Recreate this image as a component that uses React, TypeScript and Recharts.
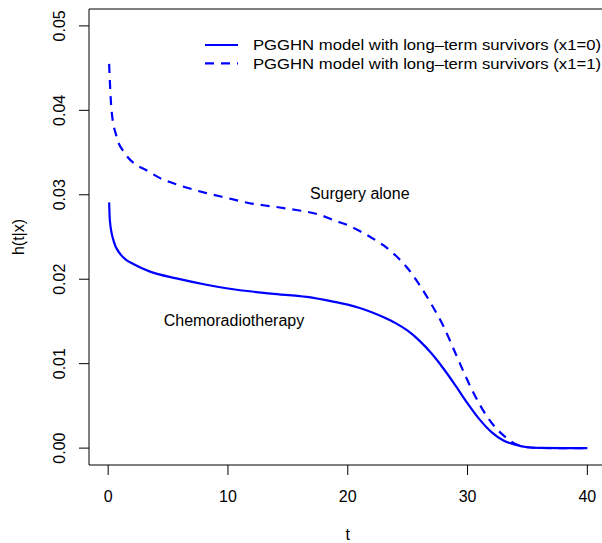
import {
  LineChart,
  Line,
  XAxis,
  YAxis,
  ReferenceArea,
  ReferenceDot,
  Legend,
} from 'recharts'

const FONT = '"Liberation Sans", Arial, Helvetica, sans-serif'
const BLUE = '#0000ff'

// hazard for x1 = 0 (chemoradiotherapy)
const T_X0 = [0.08, 0.14, 0.42, 1.0, 1.5, 2.1, 3.5, 5.7, 8.2, 10, 13.6, 16.6, 19.3, 20, 21, 22, 23, 24, 25, 26, 27, 28, 29, 30, 31, 32, 33, 34, 35, 36, 38, 40]
const H_X0 = [0.0291, 0.027, 0.0247, 0.023, 0.0223, 0.0218, 0.0209, 0.0201, 0.01935, 0.0189, 0.0183, 0.0179, 0.0172, 0.017, 0.0166, 0.0161, 0.0155, 0.0148, 0.0139, 0.0127, 0.0112, 0.0094, 0.0074, 0.0053, 0.0034, 0.0019, 0.0009, 0.0004, 0.0001, 0.00002, 0, 0]

// hazard for x1 = 1 (surgery alone)
const T_X1 = [0.08, 0.28, 0.7, 1.4, 2.4, 3.2, 4.3, 6, 8.2, 10, 11.8, 13.8, 15.7, 17.5, 19, 20, 21, 22, 23, 24, 25, 26, 27, 28, 29, 30, 31, 32, 33, 34, 35, 36, 38, 40]
const H_X1 = [0.0455, 0.04, 0.0369, 0.0349, 0.0335, 0.0329, 0.032, 0.0311, 0.0302, 0.0296, 0.029, 0.0286, 0.0282, 0.0277, 0.0269, 0.0264, 0.0257, 0.0249, 0.024, 0.0228, 0.0213, 0.0193, 0.017, 0.0144, 0.0112, 0.008, 0.0052, 0.003, 0.0015, 0.0005, 0.0001, 0.00002, 0, 0]

const X_TICKS = [0, 10, 20, 30, 40]
const Y_TICKS = [0, 0.01, 0.02, 0.03, 0.04, 0.05]
const X_DOMAIN = [-1.6, 41.6]
const Y_DOMAIN = [-0.002, 0.052]

const SERIES = [
  { name: 'PGGHN model with long\u2013term survivors (x1=0)', dash: undefined },
  { name: 'PGGHN model with long\u2013term survivors (x1=1)', dash: '9 7' },
]

const ANNOTATIONS = [
  { t: 21.0, h: 0.0302, text: 'Surgery alone' },
  { t: 10.5, h: 0.0151, text: 'Chemoradiotherapy' },
]

const dataX0 = T_X0.map((t, i) => ({ t, h: H_X0[i] }))
const dataX1 = T_X1.map((t, i) => ({ t, h: H_X1[i] }))

function YTick(props: any) {
  const { x, y, payload } = props
  return (
    <text
      x={x}
      y={y}
      transform={`rotate(-90, ${x}, ${y})`}
      textAnchor="middle"
      fontSize={16}
      fontFamily={FONT}
      fill="#000"
    >
      {Number(payload.value).toFixed(2)}
    </text>
  )
}

function YTitle(props: any) {
  const vb = props.viewBox
  const x = vb.x + 24
  const y = vb.y + vb.height / 2
  return (
    <text
      x={x}
      y={y}
      transform={`rotate(-90, ${x}, ${y})`}
      textAnchor="middle"
      fontSize={16}
      fontFamily={FONT}
      fill="#000"
    >
      h(t|x)
    </text>
  )
}

// legend text in the original is a little wider than plain Arial, so stretch it
function LegendBox() {
  return (
    <svg width={420} height={45} style={{ display: 'block', overflow: 'visible' }}>
      {SERIES.map((s, i) => {
        const y = 15 + i * 18.3
        return (
          <g key={s.name}>
            <line x1={5} x2={38} y1={y} y2={y} stroke={BLUE} strokeWidth={2.2} strokeDasharray={s.dash} />
            <text
              x={53}
              y={y + 5.3}
              fontSize={15}
              fontFamily={FONT}
              fill="#000"
              textLength={348}
              lengthAdjust="spacingAndGlyphs"
            >
              {s.name}
            </text>
          </g>
        )
      })}
    </svg>
  )
}

export default function App() {
  return (
    <div
      style={{
        position: 'absolute',
        left: 0,
        top: 0,
        width: 602,
        height: 543,
        overflow: 'hidden',
        background: '#fff',
      }}
    >
      <LineChart width={620} height={543} margin={{ top: 9, right: 13.5, bottom: 0, left: 0 }}>
        <XAxis
          type="number"
          dataKey="t"
          domain={X_DOMAIN}
          ticks={X_TICKS}
          allowDataOverflow
          axisLine={false}
          tickLine={{ stroke: '#000' }}
          tickSize={10}
          tickMargin={16}
          height={78}
          tick={{ fontSize: 16, fill: '#000', fontFamily: FONT }}
          label={{ value: 't', position: 'insideBottom', offset: 3, fontSize: 16, fill: '#000', fontFamily: FONT }}
        />
        <YAxis
          type="number"
          domain={Y_DOMAIN}
          ticks={Y_TICKS}
          allowDataOverflow
          axisLine={false}
          tickLine={{ stroke: '#000' }}
          tickSize={10}
          tickMargin={14}
          width={89}
          tick={<YTick />}
          label={<YTitle />}
        />
        <ReferenceArea
          x1={X_DOMAIN[0]}
          x2={X_DOMAIN[1]}
          y1={Y_DOMAIN[0]}
          y2={Y_DOMAIN[1]}
          fill="none"
          stroke="#000"
          strokeWidth={1}
          ifOverflow="visible"
        />
        <Line
          data={dataX0}
          dataKey="h"
          name={SERIES[0].name}
          type="monotone"
          stroke={BLUE}
          strokeWidth={2.2}
          dot={false}
          isAnimationActive={false}
        />
        <Line
          data={dataX1}
          dataKey="h"
          name={SERIES[1].name}
          type="monotone"
          stroke={BLUE}
          strokeWidth={2.2}
          strokeDasharray={SERIES[1].dash}
          dot={false}
          isAnimationActive={false}
        />
        {ANNOTATIONS.map((a) => (
          <ReferenceDot
            key={a.text}
            x={a.t}
            y={a.h}
            r={0}
            fill="none"
            stroke="none"
            ifOverflow="visible"
            label={{ value: a.text, position: 'center', fontSize: 16, fill: '#000', fontFamily: FONT }}
          />
        ))}
        <Legend
          layout="vertical"
          align="center"
          verticalAlign="middle"
          content={<LegendBox />}
          wrapperStyle={{ position: 'absolute', left: 200, top: 30, width: 420, height: 45 }}
        />
      </LineChart>
    </div>
  )
}
